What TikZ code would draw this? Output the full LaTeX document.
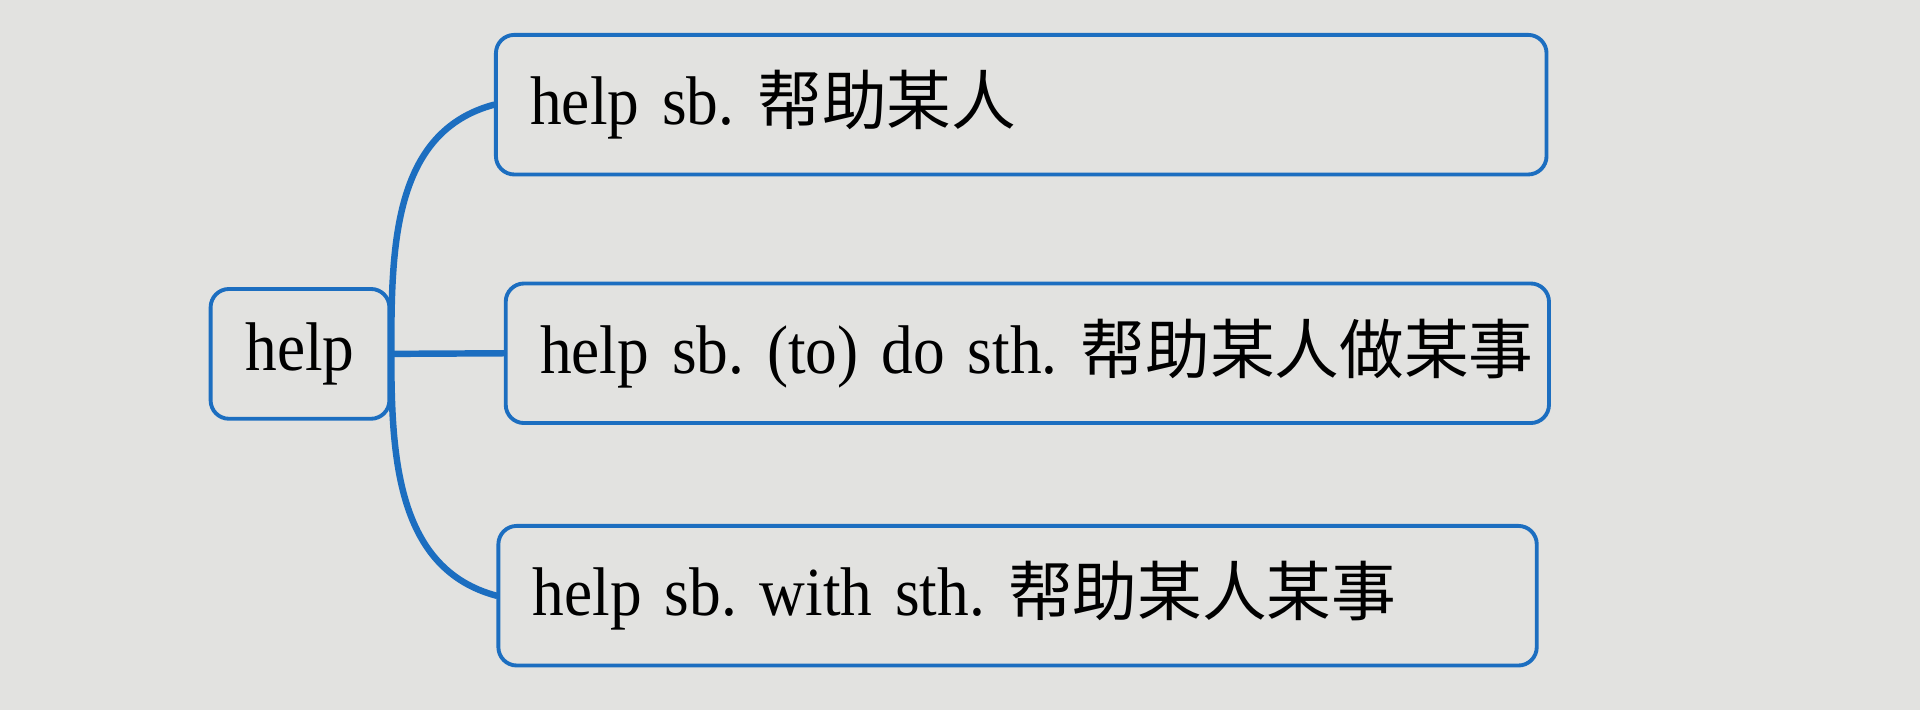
\documentclass[tikz,border=0pt]{standalone}
\usepackage{fontspec}
\setmainfont{Liberation Serif}[FakeStretch=0.92]
\newfontfamily\cjk[Scale=0.94]{Noto Sans CJK SC}
\usetikzlibrary{positioning}
\definecolor{mapblue}{RGB}{28,110,192}
\definecolor{paper}{RGB}{226,226,224}
\tikzset{%
        box/.style = { draw=mapblue, line width=0.9pt, rounded corners=1.5mm, inner xsep=0.28cm, inner ysep=0pt, font=\fontsize{16}{19}\selectfont },
     keybox/.style = { box, minimum width=1.46cm, minimum height=1.06cm },
     phrase/.style = { box, minimum height=1.14cm, text width=#1, align=left },
     branch/.style = { mapblue, line width=1.5pt, line cap=round }
}
\frenchspacing
\begin{document}
\begin{tikzpicture}
\fill[paper] (0,0) rectangle (15.68,5.80);
\useasboundingbox (0,0) rectangle (15.68,5.80);
%\node for the key word
\node[keybox] (help) at (2.45,2.91) {help};
\node[phrase=8.02cm] (sb) at (8.34,4.945) {\mbox{help sb. {\cjk 帮助某人}}};
\node[phrase=7.96cm] (sbdo) at (8.39,2.915) {\mbox{help sb. (to) do sth. {\cjk 帮助某人做某事}}};
\node[phrase=7.92cm] (sbwith) at (8.31,0.935) {\mbox{help sb. with sth. {\cjk 帮助某人某事}}};
%branches
\draw[branch] (help.east) -- (sbdo.west);
\draw[branch] (help.east) to[out=90,in=195] (sb.west);
\draw[branch] (help.east) to[out=-90,in=165] (sbwith.west);
\end{tikzpicture}
\end{document}
